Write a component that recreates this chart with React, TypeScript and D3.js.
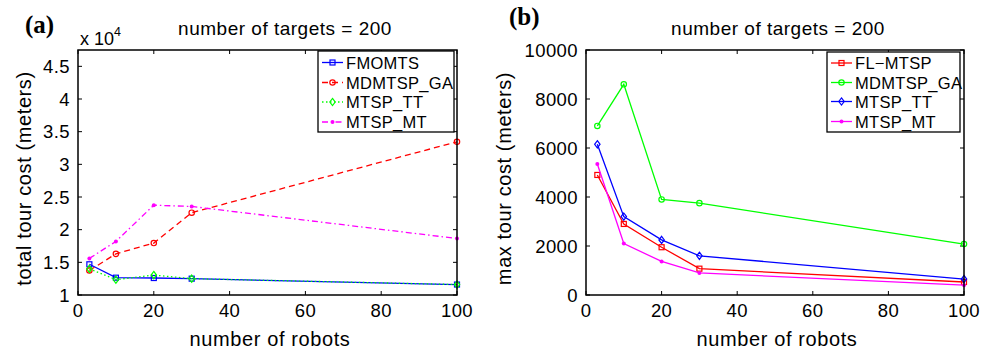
import React from 'react';
import * as d3 from 'd3';

const robots = [3, 10, 20, 30, 100];
// panel (a): total tour cost (meters)
const totalFMOMTS = [14700, 12650, 12600, 12500, 11600];
const totalMDMTSP_GA = [13750, 16300, 17950, 22600, 33450];
const totalMTSP_TT = [14000, 12350, 13050, 12500, 11600];
const totalMTSP_MT = [15600, 18200, 23750, 23550, 18650];
// panel (b): max tour cost (meters)
const maxFL_MTSP = [4900, 2900, 1950, 1075, 530];
const maxMDMTSP_GA = [6900, 8600, 3900, 3750, 2080];
const maxMTSP_TT = [6150, 3200, 2250, 1600, 650];
const maxMTSP_MT = [5350, 2100, 1370, 900, 400];

const xTicks = [0, 20, 40, 60, 80, 100];
const yTicksA = [10000, 15000, 20000, 25000, 30000, 35000, 40000, 45000];
const yTicksB = [0, 2000, 4000, 6000, 8000, 10000];

const FONT = '"Liberation Sans", Arial, Helvetica, sans-serif';

type Marker = 'square' | 'circle' | 'diamond' | 'dot';
interface Series { name: string; values: number[]; color: string; dash: string; marker: Marker; }

const seriesA: Series[] = [
  { name: 'FMOMTS', values: totalFMOMTS, color: '#0000ff', dash: '', marker: 'square' },
  { name: 'MDMTSP_GA', values: totalMDMTSP_GA, color: '#ff0000', dash: '6,4', marker: 'circle' },
  { name: 'MTSP_TT', values: totalMTSP_TT, color: '#00ff00', dash: '1.5,2.5', marker: 'diamond' },
  { name: 'MTSP_MT', values: totalMTSP_MT, color: '#ff00ff', dash: '6,3,1.5,3', marker: 'dot' },
];
const seriesB: Series[] = [
  { name: 'FL\u2212MTSP', values: maxFL_MTSP, color: '#ff0000', dash: '', marker: 'square' },
  { name: 'MDMTSP_GA', values: maxMDMTSP_GA, color: '#00ff00', dash: '', marker: 'circle' },
  { name: 'MTSP_TT', values: maxMTSP_TT, color: '#0000ff', dash: '', marker: 'diamond' },
  { name: 'MTSP_MT', values: maxMTSP_MT, color: '#ff00ff', dash: '', marker: 'dot' },
];

function MarkerShape({ m, x, y, color }: { m: Marker; x: number; y: number; color: string }) {
  if (m === 'square') return <rect x={x - 2.5} y={y - 2.5} width={5} height={5} fill="none" stroke={color} strokeWidth={1.2} />;
  if (m === 'circle') return <circle cx={x} cy={y} r={2.7} fill="none" stroke={color} strokeWidth={1.2} />;
  if (m === 'diamond') return <path d={`M${x},${y - 3.6}L${x + 2.7},${y}L${x},${y + 3.6}L${x - 2.7},${y}Z`} fill="none" stroke={color} strokeWidth={1.2} />;
  return <circle cx={x} cy={y} r={2} fill={color} />;
}

interface PanelProps {
  left: number; right: number; top: number; bottom: number;
  yDomain: [number, number]; yTicks: number[]; yFmt: (v: number) => string;
  series: Series[]; ylabel: string; ylabelX: number; tag: string; tagX: number; tagY: number;
  titleX: number; xlabelX: number;
  legend: { x0: number; x1: number; y0: number; y1: number; rows: number[] };
  exponent?: boolean;
}

function Panel(p: PanelProps) {
  const x = d3.scaleLinear().domain([0, 100]).range([p.left, p.right]);
  const y = d3.scaleLinear().domain(p.yDomain).range([p.bottom, p.top]);
  const line = d3.line<number>().x((_, i) => x(robots[i])).y((v) => y(v));
  const tl = 4;
  return (
    <g>
      <rect x={p.left} y={p.top} width={p.right - p.left} height={p.bottom - p.top} fill="#fff" />
      {xTicks.map((t) => (
        <g key={'x' + t}>
          <line x1={x(t)} x2={x(t)} y1={p.bottom} y2={p.bottom - tl} stroke="#000" strokeWidth={1} />
          <line x1={x(t)} x2={x(t)} y1={p.top} y2={p.top + tl} stroke="#000" strokeWidth={1} />
          <text x={x(t)} y={p.bottom + 22} textAnchor="middle" fontSize={18.5} letterSpacing={0.4} fontFamily={FONT}>{t}</text>
        </g>
      ))}
      {p.yTicks.map((t) => (
        <g key={'y' + t}>
          <line x1={p.left} x2={p.left + tl} y1={y(t)} y2={y(t)} stroke="#000" strokeWidth={1} />
          <line x1={p.right} x2={p.right - tl} y1={y(t)} y2={y(t)} stroke="#000" strokeWidth={1} />
          <text x={p.left - 8} y={y(t) + 6.5} textAnchor="end" fontSize={18.5} letterSpacing={0.4} fontFamily={FONT}>{p.yFmt(t)}</text>
        </g>
      ))}
      {p.series.map((s) => (
        <g key={s.name}>
          <path d={line(s.values) || ''} fill="none" stroke={s.color} strokeWidth={1.3} strokeDasharray={s.dash || undefined} />
          {s.values.map((v, i) => <MarkerShape key={i} m={s.marker} x={x(robots[i])} y={y(v)} color={s.color} />)}
        </g>
      ))}
      <rect x={p.left} y={p.top} width={p.right - p.left} height={p.bottom - p.top} fill="none" stroke="#000" strokeWidth={1.5} />
      {/* legend */}
      <rect x={p.legend.x0} y={p.legend.y0} width={p.legend.x1 - p.legend.x0} height={p.legend.y1 - p.legend.y0} fill="#fff" stroke="#000" strokeWidth={1.3} />
      {p.series.map((s, i) => {
        const ry = p.legend.rows[i];
        const lx0 = p.legend.x0 + 4, lx1 = p.legend.x0 + 25;
        return (
          <g key={'lg' + s.name}>
            <line x1={lx0} x2={lx1} y1={ry} y2={ry} stroke={s.color} strokeWidth={1.3} strokeDasharray={s.dash || undefined} />
            <MarkerShape m={s.marker} x={(lx0 + lx1) / 2} y={ry} color={s.color} />
            <text x={lx1 + 3} y={ry + 6} fontSize={16.5} letterSpacing={0.3} fontFamily={FONT}>{s.name}</text>
          </g>
        );
      })}
      <text x={p.titleX} y={35} textAnchor="middle" fontSize={19} letterSpacing={0.5} fontFamily={FONT}>number of targets = 200</text>
      <text x={p.xlabelX} y={346} textAnchor="middle" fontSize={20} letterSpacing={0.6} fontFamily={FONT}>number of robots</text>
      <text transform={`translate(${p.ylabelX},${(p.top + p.bottom) / 2 + 6}) rotate(-90)`} textAnchor="middle" fontSize={20} letterSpacing={0.6} fontFamily={FONT}>{p.ylabel}</text>
      <text x={p.tagX} y={p.tagY} fontSize={25} fontWeight="bold" fontFamily='"Liberation Serif", "Times New Roman", serif'>{p.tag}</text>
      {p.exponent && (
        <text x={p.left + 2} y={45} fontSize={18} fontFamily={FONT}>x 10<tspan dy={-9} fontSize={12.5}>4</tspan></text>
      )}
    </g>
  );
}

export default function App() {
  return (
    <svg width={993} height={353} style={{ display: 'block', position: 'absolute', left: 0, top: 0, background: '#fff' }}>
      <rect width={993} height={353} fill="#fff" />
      <Panel left={78} right={457} top={50} bottom={295} yDomain={[10000, 47500]} yTicks={yTicksA}
        yFmt={(v) => String(v / 10000)} series={seriesA} ylabel="total tour cost (meters)" ylabelX={31}
        tag="(a)" tagX={25} tagY={33} exponent titleX={285} xlabelX={270}
        legend={{ x0: 318, x1: 454, y0: 51, y1: 132, rows: [62.5, 82.5, 102, 122] }} />
      <Panel left={586} right={964} top={50} bottom={295} yDomain={[0, 10000]} yTicks={yTicksB}
        yFmt={(v) => String(v)} series={seriesB} ylabel="max tour cost (meters)" ylabelX={511}
        tag="(b)" tagX={509} tagY={25} titleX={778} xlabelX={777}
        legend={{ x0: 827, x1: 960, y0: 52, y1: 132, rows: [63, 82.5, 101.5, 121.5] }} />
    </svg>
  );
}
